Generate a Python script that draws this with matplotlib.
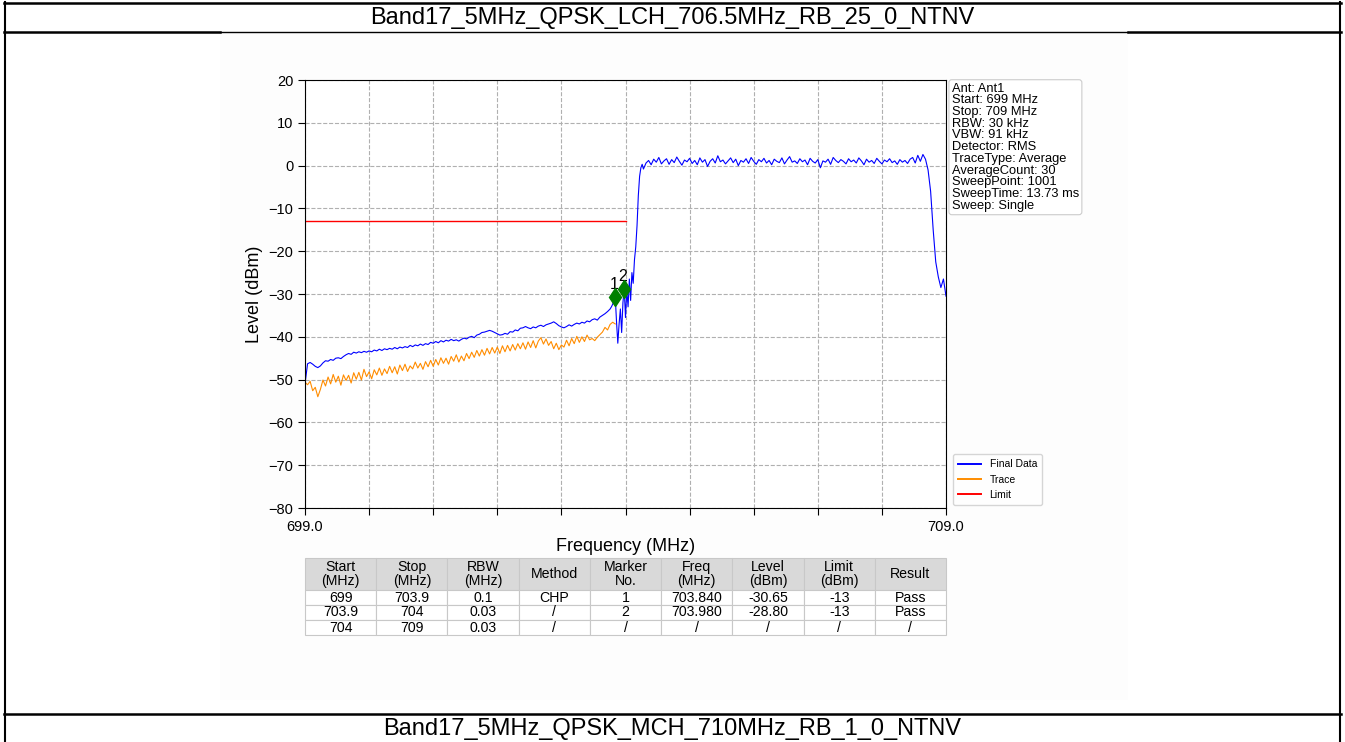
import numpy as np
import matplotlib
matplotlib.use("Agg")
import matplotlib.pyplot as plt
from matplotlib.lines import Line2D
from matplotlib.patches import Rectangle

plt.rcParams['font.family'] = ['Liberation Sans', 'DejaVu Sans']

# sweep settings
f_start, f_stop = 699.0, 709.0
limit_level = -13
limit_stop = 704.0

# Final Data: below-band part (0.04 MHz step), band edge (0.02 MHz step), in-band part (0.04 MHz step)
final_level_lower = [
    -51.0, -46.3, -46.0, -46.4, -46.9, -47.2, -46.8, -46.1, -45.6, -45.7,
    -45.3, -45.5, -45.0, -44.9, -45.1, -44.6, -44.2, -43.9, -44.1, -43.6,
    -43.8, -43.5, -43.7, -43.4, -43.6, -43.3, -43.5, -43.1, -43.3, -42.9,
    -43.2, -42.8, -43.0, -42.7, -42.9, -42.5, -42.8, -42.4, -42.6, -42.3,
    -42.5, -42.0, -42.3, -41.9, -42.1, -41.7, -42.0, -41.6, -41.8, -41.3,
    -41.5, -41.1, -41.4, -40.9, -41.2, -40.8, -41.0, -40.6, -40.9, -40.7,
    -41.0, -40.6, -40.3, -40.5, -40.1, -39.9, -40.2, -39.6, -39.4, -39.0,
    -38.9, -38.7, -38.5, -38.7, -39.0, -39.3, -39.6, -39.5, -39.2, -39.4,
    -38.8, -38.9, -38.4, -38.6, -38.0, -37.9, -37.6, -37.9, -38.1, -37.7,
    -37.9, -37.5, -37.3, -37.6, -37.2, -37.0, -36.8, -36.5, -36.9, -37.4,
    -37.7, -37.9, -37.6, -37.2, -37.5, -37.1, -36.8, -37.0, -36.6, -36.8,
    -36.3, -36.5, -36.0, -35.8, -36.1, -35.4, -35.0, -34.6, -34.1, -33.5,
]
final_level_edge = [
    -33.0, -32.4, -31.6, -30.7, -36.5, -41.5, -37.0, -33.5, -39.0, -32.0,
    -28.8, -35.5, -29.0, -33.0, -26.5, -31.5, -25.0, -27.5, -22.0, -19.0,
    -14.0, -7.0, -2.5, -0.5, 0.3, -0.8,
]
final_level_band = [
    0.6, 1.2, 0.2, 1.5, 0.8, 1.9, 0.4, 1.1, 1.6, 0.3,
    1.4, 0.7, 2.0, 1.0, 0.1, 1.3, 0.9, 1.7, 0.5, 1.2,
    0.2, 1.8, 0.8, 1.4, -0.2, 1.0, 1.6, 0.6, 2.3, 0.9,
    1.3, 0.4, 1.1, 1.8, 0.7, 1.5, 0.0, 1.2, 0.8, 1.6,
    0.5, 1.9, 1.0, 0.3, 1.4, 0.9, 1.7, 0.6, 1.2, 0.2,
    1.5, 1.0, 0.7, 1.8, 0.4, 1.3, 2.1, 0.8, 1.1, 0.5,
    1.6, 0.9, 1.3, 0.2, 1.7, 1.0, 0.6, 1.4, -0.5, 1.1,
    0.8, 1.5, 0.3, 1.9, 1.2, 0.7, 1.4, 1.0, 0.4, 1.6,
    0.9, 1.3, 0.6, 1.8, 1.1, 0.2, 1.5, 0.8, 1.2, 0.5,
    1.7, 1.0, 0.4, 1.3, 0.9, 1.6, 0.7, 1.1, 0.3, 1.4,
    0.8, 1.2, 0.5, 1.5, 1.9, 0.6, 2.4, 1.0, 2.6,
    1.5, -1.0, -6.0, -15.0, -22.5, -26.0, -28.5, -26.5, -30.5,
]

# Trace (0.04 MHz step from 699.00 to 703.84)
trace_level = [
    -50.6, -51.2, -50.4, -52.6, -51.8, -54.0, -52.3, -50.1, -51.5, -49.4,
    -51.0, -48.8, -50.6, -49.2, -51.3, -48.9, -50.2, -49.0, -50.8, -48.4,
    -49.9, -48.3, -50.1, -47.6, -49.3, -48.2, -49.8, -47.7, -48.9, -47.3,
    -49.0, -47.5, -48.6, -46.9, -48.4, -47.0, -48.7, -46.6, -47.9, -46.4,
    -48.1, -46.8, -47.5, -45.9, -47.3, -46.2, -47.6, -45.8, -47.0, -45.5,
    -46.9, -45.3, -46.6, -44.9, -46.2, -45.0, -46.4, -44.6, -45.7, -44.2,
    -45.9, -44.5, -45.6, -43.9, -45.1, -43.6, -44.8, -43.2, -44.5, -43.0,
    -44.3, -42.7, -44.0, -42.5, -43.8, -42.4, -43.9, -42.1, -43.5, -42.0,
    -43.3, -41.8, -43.1, -41.6, -42.8, -41.4, -42.9, -41.2, -42.5, -40.9,
    -42.6, -41.0, -40.2, -41.7, -40.5, -42.0, -41.1, -42.8, -41.5, -43.0,
    -41.9, -42.4, -40.8, -42.1, -40.4, -41.6, -39.9, -41.3, -40.0, -41.1,
    -39.6, -40.7, -40.4, -40.9, -40.1, -39.5, -38.9, -37.8, -38.4, -37.1,
    -36.6, -37.0,
]

# marker table
marker_no = ["1", "2"]
marker_freq = [703.840, 703.980]
marker_level = [-30.65, -28.80]

info_lines = [
    "Ant: Ant1", "Start: 699 MHz", "Stop: 709 MHz", "RBW: 30 kHz", "VBW: 91 kHz",
    "Detector: RMS", "TraceType: Average", "AverageCount: 30", "SweepPoint: 1001",
    "SweepTime: 13.73 ms", "Sweep: Single",
]

table_header = ["Start\n(MHz)", "Stop\n(MHz)", "RBW\n(MHz)", "Method", "Marker\nNo.",
                "Freq\n(MHz)", "Level\n(dBm)", "Limit\n(dBm)", "Result"]
table_rows = [
    ["699", "703.9", "0.1", "CHP", "1", "703.840", "-30.65", "-13", "Pass"],
    ["703.9", "704", "0.03", "/", "2", "703.980", "-28.80", "-13", "Pass"],
    ["704", "709", "0.03", "/", "/", "/", "/", "/", "/"],
]

title_top = "Band17_5MHz_QPSK_LCH_706.5MHz_RB_25_0_NTNV"
title_next = "Band17_5MHz_QPSK_MCH_710MHz_RB_1_0_NTNV"

final_freq = np.concatenate([699.0 + 0.04 * np.arange(len(final_level_lower)),
                             703.78 + 0.02 * np.arange(len(final_level_edge)),
                             704.32 + 0.04 * np.arange(len(final_level_band))])
final_level = np.array(final_level_lower + final_level_edge + final_level_band)
trace_freq = 699.0 + 0.04 * np.arange(len(trace_level))

W, H = 1345, 742
fig = plt.figure(figsize=(W / 100, H / 100), dpi=100)


def px(x, y):
    return x / W, 1 - y / H


# report page frame
fig.add_artist(Rectangle(px(220, 700), 908 / W, 667 / H, transform=fig.transFigure,
                         facecolor="#fdfdfd", edgecolor="none", zorder=0))
for x0, y0, x1, y1, lw in [(4, 3, 1341, 3, 1.8), (5, 2, 5, 742, 1.5), (1340, 2, 1340, 742, 1.5),
                           (4, 32, 220, 32, 1.8), (1128, 32, 1341, 32, 1.8),
                           (220, 32, 1128, 32, 1.0), (4, 714, 1341, 714, 1.8)]:
    a, b = px(x0, y0)
    c, d = px(x1, y1)
    fig.add_artist(Line2D([a, c], [b, d], transform=fig.transFigure, color="black", lw=lw))
fig.text(*px(672, 18), title_top, ha="center", va="center", fontsize=17)
fig.text(*px(672, 729), title_next, ha="center", va="center", fontsize=17)

ax = fig.add_axes([305 / W, 1 - 508 / H, 641 / W, 428 / H])
ax.plot(final_freq, final_level, color="blue", lw=0.8, label="Final Data")
ax.plot(trace_freq, trace_level, color="darkorange", lw=0.8, label="Trace")
ax.plot([f_start, limit_stop], [limit_level, limit_level], color="red", lw=1.0, label="Limit")
ax.plot(marker_freq, marker_level, linestyle="none", marker="d", markersize=9.5,
        color="green", zorder=5)
for n, f, lv in zip(marker_no, marker_freq, marker_level):
    ax.annotate(n, (f, lv), xytext=(-1, 9), textcoords="offset points",
                ha="center", va="center", fontsize=11.5)

ax.set_xlim(f_start, f_stop)
ax.set_ylim(-80, 20)
ax.set_xticks(np.arange(f_start, f_stop + 0.5, 1.0))
ax.set_xticklabels(["699.0"] + [""] * 9 + ["709.0"])
ax.set_yticks(np.arange(-80, 21, 10))
ax.tick_params(labelsize=10.5, length=5)
ax.grid(True, linestyle="--", color="#b0b0b0", lw=0.8)
ax.set_xlabel("Frequency (MHz)", fontsize=13, labelpad=3)
ax.set_ylabel("Level (dBm)", fontsize=13)

ax.text(1.009, 0.994, "\n".join(info_lines), transform=ax.transAxes, va="top", ha="left",
        fontsize=9.3, linespacing=0.97,
        bbox=dict(boxstyle="round,pad=0.22", facecolor="white", edgecolor="#cccccc", lw=0.8))
leg = ax.legend(loc="lower left", bbox_to_anchor=(1.003, -0.005), fontsize=7.5, frameon=True,
                edgecolor="#cccccc", fancybox=True, handlelength=2.2, borderpad=0.5)
for line in leg.get_lines():
    line.set_linewidth(1.4)

# result table
tax = fig.add_axes([305 / W, 1 - 635 / H, 641 / W, 77 / H])
tax.axis("off")
tbl = tax.table(cellText=table_rows, colLabels=table_header, cellLoc="center",
                bbox=[0, 0, 1, 1])
tbl.auto_set_font_size(False)
for (r, c), cell in tbl.get_celld().items():
    cell.set_edgecolor("#c8c8c8")
    cell.set_linewidth(0.8)
    cell.get_text().set_fontsize(10.2)
    cell.get_text().set_linespacing(1.0)
    if r == 0:
        cell.set_facecolor("#d9d9d9")
        cell.set_height(32 / 77)
    else:
        cell.set_height(15 / 77)

fig.savefig("out.png", dpi=100)
